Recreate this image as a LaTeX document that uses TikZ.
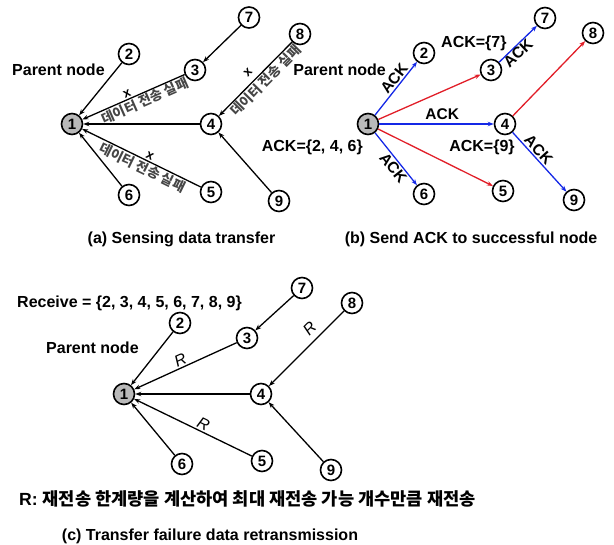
\documentclass[tikz,border=0pt]{standalone}
\usepackage{fontspec}
\setmainfont{Liberation Sans}
\newfontfamily\kr{Noto Sans CJK KR}
\usetikzlibrary{arrows.meta}
\definecolor{ackblue}{RGB}{20,40,230}
\definecolor{ackred}{RGB}{225,30,40}
\definecolor{krgray}{RGB}{70,70,70}
\begin{document}
\begin{tikzpicture}[x=1pt,y=-1pt,
  nd/.style={circle,draw,line width=1.6pt,minimum size=21pt,inner sep=0pt,fill=white,
    font=\bfseries\fontsize{15}{15}\selectfont},
  root/.style={nd,fill=gray!55},
  arr/.style={line width=1.3pt,-{Stealth[length=6pt,width=4.5pt]}},
  lbl/.style={font=\bfseries\fontsize{16}{16}\selectfont,inner sep=0pt},
  krl/.style={font=\kr\bfseries\fontsize{13.5}{13.5}\selectfont,text=krgray,sloped,anchor=north,yshift=-2pt,
    inner sep=0pt,text height=11pt,text depth=1.5pt},
  xl/.style={font=\bfseries\fontsize{13}{13}\selectfont,sloped,above,inner sep=2pt},
  ackl/.style={font=\bfseries\fontsize{15.5}{15.5}\selectfont,sloped,inner sep=1.5pt},
  rl/.style={font=\itshape\fontsize{16}{16}\selectfont,sloped,above,inner sep=2pt},
  blue arr/.style={arr,draw=ackblue,-{Stealth[length=6pt,width=4.5pt,fill=ackblue]}},
  red arr/.style={arr,draw=ackred,-{Stealth[length=6pt,width=4.5pt,fill=ackred]}}
]
\path[use as bounding box] (0,0) rectangle (614,545);

% ---------- (a) ----------
\node[root] (a1) at (72,124) {1};
\node[nd] (a2) at (129,54) {2};
\node[nd] (a3) at (195,70) {3};
\node[nd] (a7) at (249,17.5) {7};
\node[nd] (a8) at (300,34) {8};
\node[nd] (a4) at (211,124) {4};
\node[nd] (a5) at (211,192) {5};
\node[nd] (a6) at (129,195) {6};
\node[nd] (a9) at (279,201) {9};
\node[lbl,anchor=west] (apn) at (12,70) {Parent node};
\node[lbl] (acap) at (181.5,239) {(a) Sensing data transfer};

\draw[arr] (a2) -- (a1);
\draw[arr] (a3) -- (a1);
\draw[arr] (a4) -- (a1);
\draw[arr] (a5) -- (a1);
\draw[arr] (a6) -- (a1);
\draw[arr] (a7) -- (a3);
\draw[arr] (a8) -- (a4);
\draw[arr] (a9) -- (a4);

\path (a1) -- (a3) node[krl,pos=0.58] (ak1) {데이터 전송 실패} node[xl,pos=0.46] (ax1) {x};
\path (a1) -- (a5) node[krl,pos=0.54] (ak2) {데이터 전송 실패} node[xl,pos=0.55] (ax2) {x};
\path (a4) -- (a8) node[krl,pos=0.56] (ak3) {데이터 전송 실패} node[xl,pos=0.49,above=4pt] (ax3) {x};

% ---------- (b) ----------
\node[root] (b1) at (368,124) {1};
\node[nd] (b2) at (424,53) {2};
\node[nd] (b3) at (491,70) {3};
\node[nd] (b7) at (545,18) {7};
\node[nd] (b8) at (593,33) {8};
\node[nd] (b4) at (505,124) {4};
\node[nd] (b5) at (503,191) {5};
\node[nd] (b6) at (424,194) {6};
\node[nd] (b9) at (574,200) {9};
\node[lbl,anchor=east] (bpn) at (386,70) {Parent node};
\node[lbl,anchor=west] (back7) at (441,43) {ACK=\{7\}};
\node[lbl,anchor=east] (back1) at (363,147) {ACK=\{2, 4, 6\}};
\node[lbl] (back9) at (482,147) {ACK=\{9\}};
\node[lbl] (bcap) at (471,239) {(b) Send ACK to successful node};

\draw[blue arr] (b1) -- (b2) node[ackl,above,pos=0.6] {ACK};
\draw[red arr] (b1) -- (b3);
\draw[blue arr] (b1) -- (b4) node[ackl,above=2pt,pos=0.55] {ACK};
\draw[red arr] (b1) -- (b5);
\draw[blue arr] (b1) -- (b6) node[ackl,below,pos=0.58] {ACK};
\draw[blue arr] (b3) -- (b7) node[ackl,below,pos=0.38,inner sep=0.5pt] {ACK};
\draw[red arr] (b4) -- (b8);
\draw[blue arr] (b4) -- (b9) node[ackl,above,pos=0.38] {ACK};

% ---------- (c) ----------
\node[root] (c1) at (124,394) {1};
\node[nd] (c2) at (180,323) {2};
\node[nd] (c3) at (247,338) {3};
\node[nd] (c7) at (302,288) {7};
\node[nd] (c8) at (352,303) {8};
\node[nd] (c4) at (261,394) {4};
\node[nd] (c5) at (262,461) {5};
\node[nd] (c6) at (182,464) {6};
\node[nd] (c9) at (331,470) {9};
\node[lbl,anchor=west] (crec) at (17,303) {Receive = \{2, 3, 4, 5, 6, 7, 8, 9\}};
\node[lbl,anchor=west] (cpn) at (46,348) {Parent node};

\draw[arr] (c2) -- (c1);
\draw[arr] (c3) -- (c1);
\draw[arr] (c4) -- (c1);
\draw[arr] (c5) -- (c1);
\draw[arr] (c6) -- (c1);
\draw[arr] (c7) -- (c3);
\draw[arr] (c8) -- (c4);
\draw[arr] (c9) -- (c4);

\path (c1) -- (c3) node[rl,pos=0.48] (cr1) {R};
\path (c1) -- (c5) node[rl,pos=0.56] (cr2) {R};
\path (c4) -- (c8) node[rl,pos=0.65,above=4pt] (cr3) {R};

\node[anchor=west,inner sep=0pt] (cnote) at (19,499)
  {\bfseries\fontsize{17.6}{17.6}\selectfont R: {\kr\bfseries 재전송 한계량을 계산하여 최대 재전송 가능 개수만큼 재전송}};
\node[lbl] (ccap) at (210,536) {(c) Transfer failure data retransmission};
\end{tikzpicture}
\end{document}
